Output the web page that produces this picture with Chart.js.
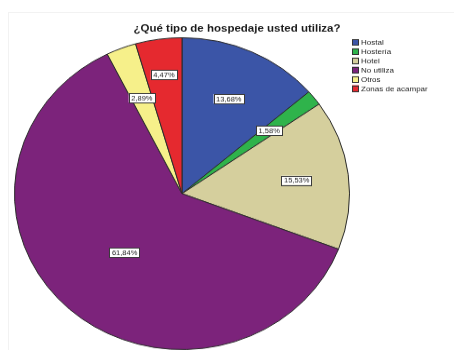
<!DOCTYPE html>
<html>
<head>
<meta charset="utf-8">
<script src="https://cdn.jsdelivr.net/npm/chart.js@4.4.0/dist/chart.umd.min.js"></script>
<style>
    html, body { margin: 0; padding: 0; background: #fff; overflow: hidden; }
    #frame { position: absolute; left: 8px; top: 12px; right: 0; bottom: 0; border-left: 1px solid #f2f2f2; border-top: 1px solid #f2f2f2; }
    /* the reference pie is a little squashed vertically */
    #wrap { position: absolute; left: 0; top: 0; width: 454px; height: 376px; transform: scaleY(0.9309); transform-origin: 0 0; }
</style>
</head>
<body>
<div id="frame"></div>
<div id="wrap"><canvas id="chart"></canvas></div>
<script>
const categories = ['Hostal', 'Hostería', 'Hotel', 'No utiliza', 'Otros', 'Zonas de acampar'];
const percentages = [13.68, 1.58, 15.53, 61.84, 2.89, 4.47];
const sliceColors = ['#3b55a7', '#2fb34b', '#d5cf9d', '#7c237b', '#f6f08a', '#e5292f'];
const chartTitle = '¿Qué tipo de hospedaje usted utiliza?';

// label distance from center, as a share of the radius (per slice)
const labelRadius = [0.67, 0.66, 0.69, 0.51, 0.66, 0.77];

const overlay = {
    id: 'overlay',
    afterDraw(chart) {
        const ctx = chart.ctx;
        const meta = chart.getDatasetMeta(0);

        // title
        ctx.save();
        ctx.fillStyle = '#1a1a1a';
        ctx.font = 'bold 11.5px "Liberation Sans", Arial, sans-serif';
        ctx.textAlign = 'center';
        ctx.textBaseline = 'middle';
        ctx.fillText(chartTitle, 237, 30.5);

        // slice labels
        ctx.font = '7.5px "Liberation Sans", Arial, sans-serif';
        meta.data.forEach((arc, i) => {
            const mid = (arc.startAngle + arc.endAngle) / 2;
            const r = arc.outerRadius * labelRadius[i];
            const x = arc.x + Math.cos(mid) * r;
            const y = arc.y + Math.sin(mid) * r;
            const txt = percentages[i].toFixed(2).replace('.', ',') + '%';
            const w = ctx.measureText(txt).width + 5;
            const h = 10;
            ctx.fillStyle = '#ffffff';
            ctx.fillRect(x - w / 2, y - h / 2, w, h);
            ctx.strokeStyle = '#3a3a3a';
            ctx.lineWidth = 1;
            ctx.strokeRect(Math.round(x - w / 2) + 0.5, Math.round(y - h / 2) + 0.5, Math.round(w), h);
            ctx.fillStyle = '#222222';
            ctx.fillText(txt, x, y + 0.5);
        });

        // legend
        ctx.textAlign = 'left';
        ctx.font = '8px "Liberation Sans", Arial, sans-serif';
        categories.forEach((name, i) => {
            const y = 45.5 + i * 9.9;
            ctx.fillStyle = sliceColors[i];
            ctx.fillRect(352, y - 3.5, 7, 7);
            ctx.strokeStyle = '#333333';
            ctx.strokeRect(352.5, Math.round(y - 3.5) + 0.5, 6, 6);
            ctx.fillStyle = '#222222';
            ctx.fillText(name, 361, y + 0.5);
        });
        ctx.restore();
    }
};

new Chart(document.getElementById('chart'), {
    type: 'pie',
    data: {
        labels: categories,
        datasets: [{
            data: percentages,
            backgroundColor: sliceColors,
            borderColor: '#2b2b2b',
            borderWidth: 1
        }]
    },
    options: {
        responsive: true,
        maintainAspectRatio: false,
        animation: false,
        layout: { padding: { left: 14, right: 104, top: 40, bottom: 0 } },
        plugins: {
            legend: { display: false },
            title: { display: false },
            tooltip: { enabled: false }
        }
    },
    plugins: [overlay]
});
</script>
</body>
</html>
